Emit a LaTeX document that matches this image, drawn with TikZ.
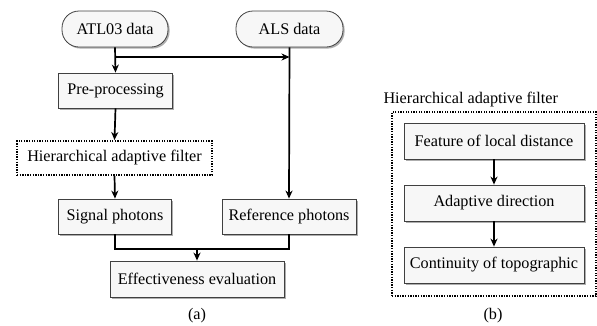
\documentclass[tikz,border=0pt]{standalone}
\usepackage{fontspec}
\setmainfont{Liberation Serif}
\usetikzlibrary{arrows.meta,shadows,calc}
\begin{document}
\begin{tikzpicture}[x=1pt,y=-1pt,
  font=\fontsize{16.2}{19}\selectfont,
  box/.style={draw=black!75,line width=0.8pt,fill=white!97!black,inner sep=0pt,
    drop shadow={shadow xshift=1.6pt,shadow yshift=-1.6pt,fill=black!45,opacity=0.7}},
  term/.style={box,rounded corners=17pt},
  dotbox/.style={draw=black,line width=1.9pt,dash pattern=on 1.3pt off 1.3pt,inner sep=0pt},
  arr/.style={line width=1.7pt,-{Stealth[length=8pt,width=7pt,inset=2.5pt]}},
  ln/.style={line width=1.7pt}]
\useasboundingbox (0,0) rectangle (597,325);
% (a)
\node[term,minimum width=106pt,minimum height=36pt] (atl) at (115,29) {ATL03 data};
\node[term,minimum width=107pt,minimum height=36pt] (als) at (289.5,29) {ALS data};
\node[box,minimum width=114pt,minimum height=35pt] (pre) at (115.5,90.5) {Pre-processing};
\node[dotbox,minimum width=195pt,minimum height=34pt] (haf) at (114.5,158) {Hierarchical adaptive filter};
\node[box,minimum width=113pt,minimum height=35pt] (sig) at (115,216.5) {Signal photons};
\node[box,minimum width=134pt,minimum height=35pt] (ref) at (289,216.5) {Reference photons};
\node[box,minimum width=174pt,minimum height=36pt] (eff) at (197,279) {Effectiveness evaluation};
\node (la) at (197,316) {(a)};
\coordinate (j) at (115,57);
\coordinate (m) at (197,249);
\draw[arr] (atl.south) -- (pre.north);
\draw[arr] (j) -- (als.south |- j);
\draw[arr] (als.south) -- (ref.north);
\draw[arr] (pre.south) -- (haf.north);
\draw[arr] (haf.south) -- (sig.north);
\draw[ln] (sig.south) -- (sig.south |- m) -- (ref.south |- m) -- (ref.south);
\draw[arr] (m) -- (eff.north);
% (b)
\node[anchor=west] (title) at (380,100) {Hierarchical adaptive filter};
\node[dotbox,minimum width=204pt,minimum height=184pt] (frame) at (494,204) {};
\node[box,minimum width=180pt,minimum height=36pt] (f1) at (494,141) {Feature of local distance};
\node[box,minimum width=180pt,minimum height=36pt] (f2) at (494,203) {Adaptive direction};
\node[box,minimum width=180pt,minimum height=36pt] (f3) at (494,265) {Continuity of topographic};
\node (lb) at (493,316) {(b)};
\draw[arr] (f1.south) -- (f2.north);
\draw[arr] (f2.south) -- (f3.north);
\end{tikzpicture}
\end{document}
